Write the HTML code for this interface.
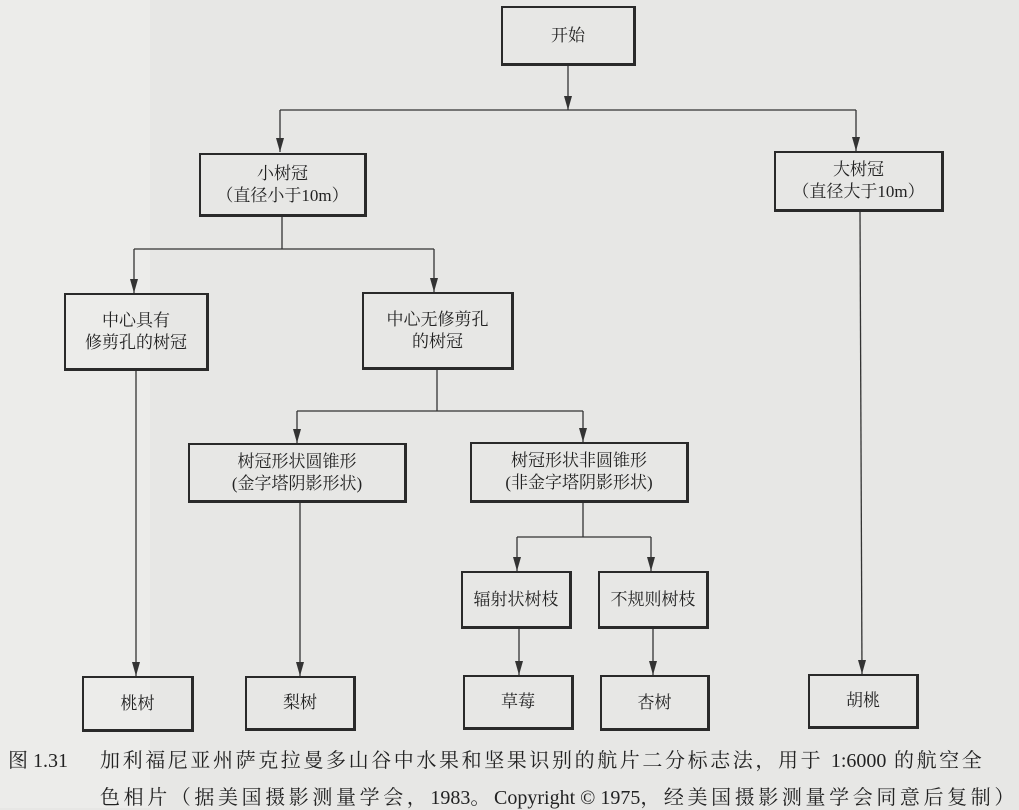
<!DOCTYPE html>
<html><head><meta charset="utf-8"><style>
html,body{margin:0;padding:0}
body{width:1019px;height:808px;position:relative;overflow:hidden;background:#e7e7e5;font-family:"Liberation Serif","Noto Serif CJK SC","Noto Sans CJK SC",serif;color:#222}
.b{position:absolute;box-sizing:border-box;border:2.5px solid #2a2a2a;border-right-width:3px;border-bottom-width:3px;display:flex;align-items:center;justify-content:center;text-align:center;font-size:17px;line-height:22px}
.c{position:absolute;font-size:20px;white-space:nowrap}
.l{letter-spacing:0}
svg{position:absolute;left:0;top:0}
</style></head><body>
<div style="position:absolute;left:0;top:0;width:150px;height:808px;background:#ececea"></div>
<svg width="1019" height="808" stroke="#333" stroke-width="1.3" fill="none">
<g>
<line x1="568" y1="66" x2="568" y2="110"/>
<polygon points="564,96 572,96 568,110" fill="#333" stroke="none"/>
<line x1="280" y1="110" x2="856" y2="110"/>
<line x1="280" y1="110" x2="280" y2="152"/><polygon points="276,138 284,138 280,152" fill="#333" stroke="none"/>
<line x1="856" y1="110" x2="856" y2="151"/><polygon points="852,137 860,137 856,151" fill="#333" stroke="none"/>
<line x1="282" y1="217" x2="282" y2="249"/>
<line x1="134" y1="249" x2="434" y2="249"/>
<line x1="134" y1="249" x2="134" y2="293"/><polygon points="130,279 138,279 134,293" fill="#333" stroke="none"/>
<line x1="434" y1="249" x2="434" y2="292"/><polygon points="430,278 438,278 434,292" fill="#333" stroke="none"/>
<line x1="136" y1="371" x2="136" y2="676"/><polygon points="132,662 140,662 136,676" fill="#333" stroke="none"/>
<line x1="437" y1="370" x2="437" y2="411"/>
<line x1="297" y1="411" x2="583" y2="411"/>
<line x1="297" y1="411" x2="297" y2="443"/><polygon points="293,429 301,429 297,443" fill="#333" stroke="none"/>
<line x1="583" y1="411" x2="583" y2="442"/><polygon points="579,428 587,428 583,442" fill="#333" stroke="none"/>
<line x1="300" y1="503" x2="300" y2="676"/><polygon points="296,662 304,662 300,676" fill="#333" stroke="none"/>
<line x1="583" y1="503" x2="583" y2="537"/>
<line x1="517" y1="537" x2="651" y2="537"/>
<line x1="517" y1="537" x2="517" y2="571"/><polygon points="513,557 521,557 517,571" fill="#333" stroke="none"/>
<line x1="651" y1="537" x2="651" y2="571"/><polygon points="647,557 655,557 651,571" fill="#333" stroke="none"/>
<line x1="519" y1="629" x2="519" y2="675"/><polygon points="515,661 523,661 519,675" fill="#333" stroke="none"/>
<line x1="653" y1="629" x2="653" y2="675"/><polygon points="649,661 657,661 653,675" fill="#333" stroke="none"/>
<line x1="860" y1="212" x2="862" y2="674"/><polygon points="858,660 866,660 862,674" fill="#333" stroke="none"/>
</g></svg>
<div class="b" style="left:501px;top:6px;width:135px;height:60px">开始</div>
<div class="b" style="left:199px;top:153px;width:168px;height:64px">小树冠<br>（直径小于10m）</div>
<div class="b" style="left:774px;top:151px;width:170px;height:61px">大树冠<br>（直径大于10m）</div>
<div class="b" style="left:64px;top:293px;width:145px;height:78px">中心具有<br>修剪孔的树冠</div>
<div class="b" style="left:362px;top:292px;width:152px;height:78px">中心无修剪孔<br>的树冠</div>
<div class="b" style="left:188px;top:443px;width:219px;height:60px">树冠形状圆锥形<br>(金字塔阴影形状)</div>
<div class="b" style="left:470px;top:442px;width:219px;height:61px">树冠形状非圆锥形<br>(非金字塔阴影形状)</div>
<div class="b" style="left:461px;top:571px;width:111px;height:58px">辐射状树枝</div>
<div class="b" style="left:598px;top:571px;width:111px;height:58px">不规则树枝</div>
<div class="b" style="left:82px;top:676px;width:112px;height:56px">桃树</div>
<div class="b" style="left:245px;top:676px;width:111px;height:55px">梨树</div>
<div class="b" style="left:463px;top:675px;width:111px;height:55px">草莓</div>
<div class="b" style="left:600px;top:675px;width:110px;height:56px">杏树</div>
<div class="b" style="left:808px;top:674px;width:111px;height:55px">胡桃</div>
<div class="c" style="left:8px;top:744px">图 1.31</div>
<div class="c" style="left:100px;top:744px;letter-spacing:2.6px">加利福尼亚州萨克拉曼多山谷中水果和坚果识别的航片二分标志法，用于 <span class="l">1:6000</span> 的航空全</div>
<div class="c" style="left:100px;top:781px;letter-spacing:3.6px">色相片（据美国摄影测量学会，<span class="l">1983</span>。<span class="l">Copyright © 1975</span>，经美国摄影测量学会同意后复制）</div>
</body></html>
